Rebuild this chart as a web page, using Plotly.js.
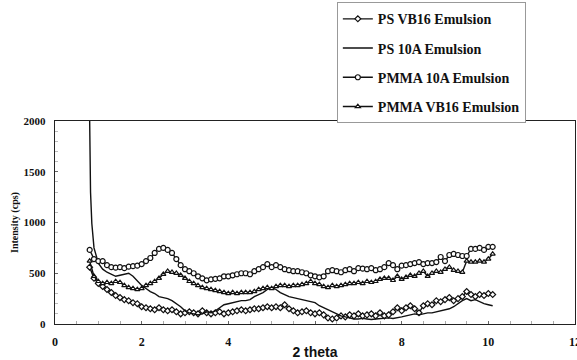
<!DOCTYPE html>
<html>
<head>
<meta charset="utf-8">
<script src="https://cdn.plot.ly/plotly-3.0.1.min.js"></script>
<style>html,body{margin:0;padding:0;background:#fff;}#chart{width:577px;height:360px;}</style>
</head>
<body>
<div id="chart"></div>
<script>
// x positions (2 theta) shared by the marker series
var xCommon = [0.8,0.9,1.0,1.1,1.2,1.3,1.4,1.5,1.6,1.7,1.8,1.9,2.0,2.1,2.2,2.3,2.4,2.5,2.6,2.7,2.8,2.9,
  3.0,3.1,3.2,3.3,3.4,3.5,3.6,3.7,3.8,3.9,4.0,4.1,4.2,4.3,4.4,4.5,4.6,4.7,4.8,4.9,
  5.0,5.1,5.2,5.3,5.4,5.5,5.6,5.7,5.8,5.9,6.0,6.1,6.2,6.3,6.4,6.5,6.6,6.7,6.8,6.9,
  7.0,7.1,7.2,7.3,7.4,7.5,7.6,7.7,7.8,7.9,8.0,8.1,8.2,8.3,8.4,8.5,8.6,8.7,8.8,8.9,
  9.0,9.1,9.2,9.3,9.4,9.5,9.6,9.7,9.8,9.9,10.0,10.1];

var psVB16 = [560,450,400,370,340,310,280,260,240,230,210,200,170,160,150,140,160,140,130,140,120,100,
  110,120,110,100,130,110,100,110,120,100,110,120,130,140,130,140,150,150,160,170,
  160,170,160,190,150,130,110,120,130,110,100,110,90,60,50,60,80,70,90,80,
  100,80,90,100,80,110,80,90,120,160,130,160,180,150,110,180,200,190,230,220,
  240,260,230,250,270,320,290,270,290,280,300,290];

var xPS10A = [0.8,0.82,0.85,0.9,1.0,1.1,1.2,1.3,1.4,1.5,1.6,1.7,1.8,1.9,2.0,2.1,2.2,2.3,2.4,2.5,2.6,2.7,2.8,2.9,
  3.0,3.1,3.2,3.3,3.4,3.5,3.6,3.7,3.8,3.9,4.0,4.1,4.2,4.3,4.4,4.5,4.6,4.7,4.8,4.9,
  5.0,5.1,5.2,5.3,5.4,5.5,5.6,5.7,5.8,5.9,6.0,6.1,6.2,6.3,6.4,6.5,6.6,6.7,6.8,6.9,
  7.0,7.1,7.2,7.3,7.4,7.5,7.6,7.7,7.8,7.9,8.0,8.1,8.2,8.3,8.4,8.5,8.6,8.7,8.8,8.9,
  9.0,9.1,9.2,9.3,9.4,9.5,9.6,9.7,9.8,9.9,10.0,10.1];
var ps10A = [2000,1300,990,750,600,540,510,490,470,480,490,500,470,420,380,350,320,300,270,260,250,230,200,170,
  130,110,100,90,100,120,110,130,160,190,200,210,220,230,230,240,270,290,310,340,
  360,340,310,290,270,260,250,240,230,220,210,180,160,140,120,100,80,70,60,50,
  50,55,50,45,50,55,60,60,55,60,70,80,90,100,90,100,110,110,120,130,
  140,150,170,200,230,250,230,240,220,200,190,180];

var pmma10A = [730,640,620,620,580,560,555,560,550,565,570,575,590,620,650,700,740,750,730,700,640,580,
  540,520,500,470,450,430,440,445,450,470,470,480,490,500,500,490,520,540,560,590,
  560,580,560,540,530,520,520,510,500,480,470,460,470,520,530,520,510,530,540,520,
  550,545,540,550,530,540,560,600,580,540,575,580,590,600,610,590,600,600,610,660,
  620,680,690,680,670,670,740,740,750,730,760,760];

var pmmaVB16 = [620,470,420,400,410,400,420,410,380,360,350,340,350,380,400,420,450,490,520,510,500,480,
  450,420,400,380,360,350,340,330,320,310,300,310,300,310,310,310,320,340,350,360,
  350,370,380,380,370,380,380,390,400,420,400,390,370,360,380,370,380,390,400,400,
  410,400,420,410,420,440,450,450,430,470,440,460,480,470,500,520,470,500,520,510,
  540,560,530,520,510,620,610,610,620,610,640,690];

var seriesNames = ['PS VB16 Emulsion','PS 10A Emulsion','PMMA 10A Emulsion','PMMA VB16 Emulsion'];
var xTickVals = [0,2,4,6,8,10,12];
var xTickText = ['0','2','4','','8','10','12'];   // the "6" is covered by the axis title in the reference
var yTickVals = [0,500,1000,1500,2000];

var serif = 'Liberation Serif, Times New Roman, serif';
var lineStyle = {color:'#111', width:1.4};
var mk = function(sym, sz){ return {symbol:sym, size:sz, color:'#fff', line:{color:'#111', width:1.2}}; };

var traces = [
  {x:xCommon, y:psVB16, name:seriesNames[0], mode:'lines+markers', line:lineStyle, marker:mk('diamond', 4.5), legendgroup:'a'},
  {x:xPS10A, y:ps10A, name:seriesNames[1], mode:'lines', line:lineStyle, legendgroup:'b'},
  {x:xCommon, y:pmma10A, name:seriesNames[2], mode:'lines+markers', line:lineStyle, marker:mk('circle', 5), legendgroup:'c'},
  {x:xCommon, y:pmmaVB16, name:seriesNames[3], mode:'lines+markers', line:lineStyle, marker:mk('triangle-up', 4.5), legendgroup:'d'}
];

var layout = {
  width:577, height:360,
  margin:{l:55, r:2, t:121, b:36, pad:0},
  paper_bgcolor:'#fff', plot_bgcolor:'#fff',
  showlegend:true,
  legend:{
    x:0.542, xanchor:'left', y:1.585, yanchor:'top',
    bgcolor:'#fff', bordercolor:'#999', borderwidth:1,
    font:{family:serif, size:14, color:'#111', weight:'bold'},
    traceorder:'grouped', tracegroupgap:8,
    itemwidth:30, entrywidth:178, entrywidthmode:'pixels'
  },
  xaxis:{
    range:[0,12], tickvals:xTickVals, ticktext:xTickText,
    showline:true, linecolor:'#222', linewidth:1.2, mirror:true,
    showgrid:false, zeroline:false,
    ticks:'inside', ticklen:3, tickcolor:'#666',
    minor:{dtick:0.5, ticks:'inside', ticklen:3, tickcolor:'#aaa', showgrid:false},
    tickfont:{family:serif, size:12, color:'#111', weight:'bold'},
    ticklabelstandoff:6, ticklabeloverflow:'allow',
    title:{text:'2 theta', font:{family:'Liberation Sans, Arial, sans-serif', size:14, color:'#111', weight:'bold'}, standoff:0}
  },
  yaxis:{
    range:[0,2000], tickvals:yTickVals, ticktext:yTickVals.map(String),
    showline:true, linecolor:'#222', linewidth:1.2, mirror:true,
    showgrid:false, zeroline:false,
    ticks:'inside', ticklen:3, tickcolor:'#666',
    minor:{dtick:100, ticks:'inside', ticklen:3, tickcolor:'#bbb', showgrid:false},
    tickfont:{family:serif, size:11, color:'#111', weight:'bold'},
    ticklabelstandoff:6,
    title:{text:'Intensity (cps)', font:{family:serif, size:10, color:'#111', weight:'bold'}, standoff:3}
  }
};

Plotly.newPlot('chart', traces, layout, {staticPlot:true, displayModeBar:false});
</script>
</body>
</html>
